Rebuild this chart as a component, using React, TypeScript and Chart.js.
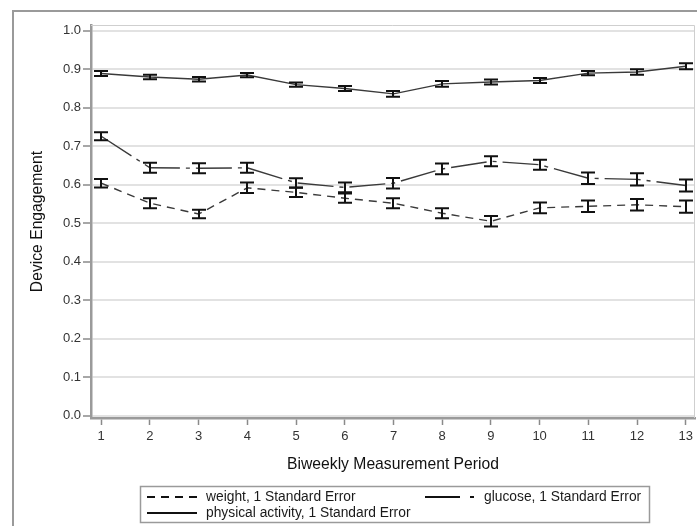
import React, { useEffect, useRef } from 'react';
import { Chart, registerables } from 'chart.js';

Chart.register(...registerables);

// ---- data ----
const periods = [1, 2, 3, 4, 5, 6, 7, 8, 9, 10, 11, 12, 13];
const weightMean = [0.604, 0.552, 0.524, 0.592, 0.580, 0.565, 0.552, 0.526, 0.505, 0.540, 0.544, 0.548, 0.543];
const weightSE = [0.011, 0.013, 0.011, 0.0135, 0.012, 0.012, 0.013, 0.013, 0.0135, 0.014, 0.015, 0.015, 0.016];
const glucoseMean = [0.726, 0.644, 0.643, 0.644, 0.605, 0.593, 0.604, 0.641, 0.661, 0.652, 0.617, 0.614, 0.598];
const glucoseSE = [0.0104, 0.013, 0.013, 0.013, 0.012, 0.0125, 0.0135, 0.014, 0.013, 0.013, 0.015, 0.016, 0.0156];
const activityMean = [0.889, 0.880, 0.874, 0.885, 0.860, 0.850, 0.836, 0.862, 0.867, 0.871, 0.890, 0.893, 0.908];
const activitySE = [0.0065, 0.006, 0.006, 0.0056, 0.0056, 0.0065, 0.0074, 0.0074, 0.0065, 0.0065, 0.0056, 0.007, 0.0078];
const yTickValues = [0, 0.1, 0.2, 0.3, 0.4, 0.5, 0.6, 0.7, 0.8, 0.9, 1.0];
const seriesLabels = ['weight, 1 Standard Error', 'glucose, 1 Standard Error', 'physical activity, 1 Standard Error'];
const xTitle = 'Biweekly Measurement Period';
const yTitle = 'Device Engagement';

const FONT = '"Liberation Sans", Arial, sans-serif';
const WEIGHT_DASH = [8, 6];
const GLUCOSE_DASH = [36, 6, 4, 6];

const errorBarPlugin = {
  id: 'errorBars',
  afterDatasetsDraw(chart: any) {
    const { ctx } = chart;
    const x = chart.scales.x;
    const y = chart.scales.y;
    ctx.save();
    ctx.strokeStyle = '#111';
    ctx.lineWidth = 2;
    ctx.setLineDash([]);
    chart.data.datasets.forEach((ds: any) => {
      ds.data.forEach((p: any, i: number) => {
        const px = Math.round(x.getPixelForValue(p.x));
        const top = y.getPixelForValue(p.y + ds.errors[i]);
        const bot = y.getPixelForValue(p.y - ds.errors[i]);
        ctx.beginPath();
        ctx.moveTo(px, top);
        ctx.lineTo(px, bot);
        ctx.moveTo(px - 7, top);
        ctx.lineTo(px + 7, top);
        ctx.moveTo(px - 7, bot);
        ctx.lineTo(px + 7, bot);
        ctx.stroke();
      });
    });
    ctx.restore();
  },
};

const framePlugin = {
  id: 'frameAndLegend',
  beforeDatasetsDraw(chart: any) {
    const { ctx, chartArea } = chart;
    ctx.save();
    ctx.strokeStyle = '#cfcfcf';
    ctx.lineWidth = 1;
    ctx.beginPath();
    ctx.moveTo(chartArea.left, chartArea.top + 0.5);
    ctx.lineTo(chartArea.right - 0.5, chartArea.top + 0.5);
    ctx.lineTo(chartArea.right - 0.5, chartArea.bottom);
    ctx.stroke();
    ctx.restore();
  },
  afterDraw(chart: any) {
    const { ctx } = chart;
    ctx.save();
    // outer frame
    ctx.strokeStyle = '#9a9a9a';
    ctx.lineWidth = 2;
    ctx.beginPath();
    ctx.moveTo(13, 530);
    ctx.lineTo(13, 11);
    ctx.lineTo(700, 11);
    ctx.stroke();

    // legend box
    ctx.strokeStyle = '#9a9a9a';
    ctx.lineWidth = 1.5;
    ctx.strokeRect(140.5, 486.5, 509, 36);

    const rows = [497, 513];
    ctx.strokeStyle = '#111';
    ctx.lineWidth = 2;
    // weight sample
    ctx.setLineDash(WEIGHT_DASH);
    ctx.beginPath();
    ctx.moveTo(147, rows[0]);
    ctx.lineTo(197, rows[0]);
    ctx.stroke();
    // glucose sample
    ctx.setLineDash([35, 10, 4, 100]);
    ctx.beginPath();
    ctx.moveTo(425, rows[0]);
    ctx.lineTo(477, rows[0]);
    ctx.stroke();
    // activity sample
    ctx.setLineDash([]);
    ctx.beginPath();
    ctx.moveTo(147, rows[1]);
    ctx.lineTo(197, rows[1]);
    ctx.stroke();

    ctx.fillStyle = '#1a1a1a';
    ctx.font = `13.8px ${FONT}`;
    ctx.textBaseline = 'middle';
    ctx.textAlign = 'left';
    ctx.fillText(seriesLabels[0], 206, rows[0]);
    ctx.fillText(seriesLabels[1], 484, rows[0]);
    ctx.fillText(seriesLabels[2], 206, rows[1]);
    ctx.restore();
  },
};

function toPoints(values: number[]) {
  return periods.map((p, i) => ({ x: p, y: values[i] }));
}

export default function App() {
  const canvasRef = useRef<HTMLCanvasElement | null>(null);

  useEffect(() => {
    const canvas = canvasRef.current;
    if (!canvas) return;
    const lineColor = '#3a3a3a';
    const chart = new Chart(canvas, {
      type: 'line',
      data: {
        datasets: [
          {
            label: seriesLabels[0],
            data: toPoints(weightMean),
            errors: weightSE,
            borderColor: lineColor,
            borderWidth: 1.4,
            borderDash: WEIGHT_DASH,
            pointRadius: 0,
            tension: 0,
            fill: false,
          } as any,
          {
            label: seriesLabels[1],
            data: toPoints(glucoseMean),
            errors: glucoseSE,
            borderColor: lineColor,
            borderWidth: 1.4,
            borderDash: GLUCOSE_DASH,
            pointRadius: 0,
            tension: 0,
            fill: false,
          } as any,
          {
            label: seriesLabels[2],
            data: toPoints(activityMean),
            errors: activitySE,
            borderColor: lineColor,
            borderWidth: 1.4,
            pointRadius: 0,
            tension: 0,
            fill: false,
          } as any,
        ],
      },
      options: {
        responsive: false,
        devicePixelRatio: 1,
        animation: false,
        layout: { padding: { left: 0, right: 1, top: 25, bottom: 0 } },
        plugins: {
          legend: { display: false },
          tooltip: { enabled: false },
        },
        scales: {
          x: {
            type: 'linear',
            min: 0.79,
            max: 13.19,
            afterFit: (scale: any) => {
              scale.height = 108;
            },
            ticks: {
              stepSize: 1,
              includeBounds: false,
              autoSkip: false,
              maxRotation: 0,
              padding: 4,
              color: '#333',
              font: { family: FONT, size: 13 },
              callback: (v: any) => String(v),
            },
            grid: {
              display: true,
              drawOnChartArea: false,
              drawTicks: true,
              tickLength: 7,
              tickColor: '#8a8a8a',
              tickWidth: 1.5,
            },
            border: { display: true, color: '#9a9a9a', width: 2.5 },
            title: {
              display: true,
              text: xTitle,
              color: '#111',
              font: { family: FONT, size: 15.7 },
              padding: { top: 0, bottom: 51.6 },
            },
          },
          y: {
            type: 'linear',
            min: -0.006,
            max: 1.015,
            afterFit: (scale: any) => {
              scale.width = 91;
            },
            afterBuildTicks: (scale: any) => {
              scale.ticks = yTickValues.map((v) => ({ value: v }));
            },
            ticks: {
              padding: 2,
              color: '#333',
              font: { family: FONT, size: 13 },
              callback: (v: any) => Number(v).toFixed(1),
            },
            grid: {
              color: '#e2e2e2',
              lineWidth: 2,
              drawTicks: true,
              tickLength: 8,
              tickColor: '#8a8a8a',
              tickWidth: 1.5,
            },
            border: { display: true, color: '#9a9a9a', width: 2.5 },
            title: {
              display: true,
              text: yTitle,
              color: '#111',
              font: { family: FONT, size: 15.7 },
              padding: { top: 28.6, bottom: 0 },
            },
          },
        },
      } as any,
      plugins: [framePlugin, errorBarPlugin],
    });
    return () => chart.destroy();
  }, []);

  return (
    <div style={{ position: 'absolute', left: 0, top: 0, width: 697, height: 526, background: '#fff' }}>
      <canvas ref={canvasRef} width={697} height={526} style={{ display: 'block', width: 697, height: 526 }} />
    </div>
  );
}
